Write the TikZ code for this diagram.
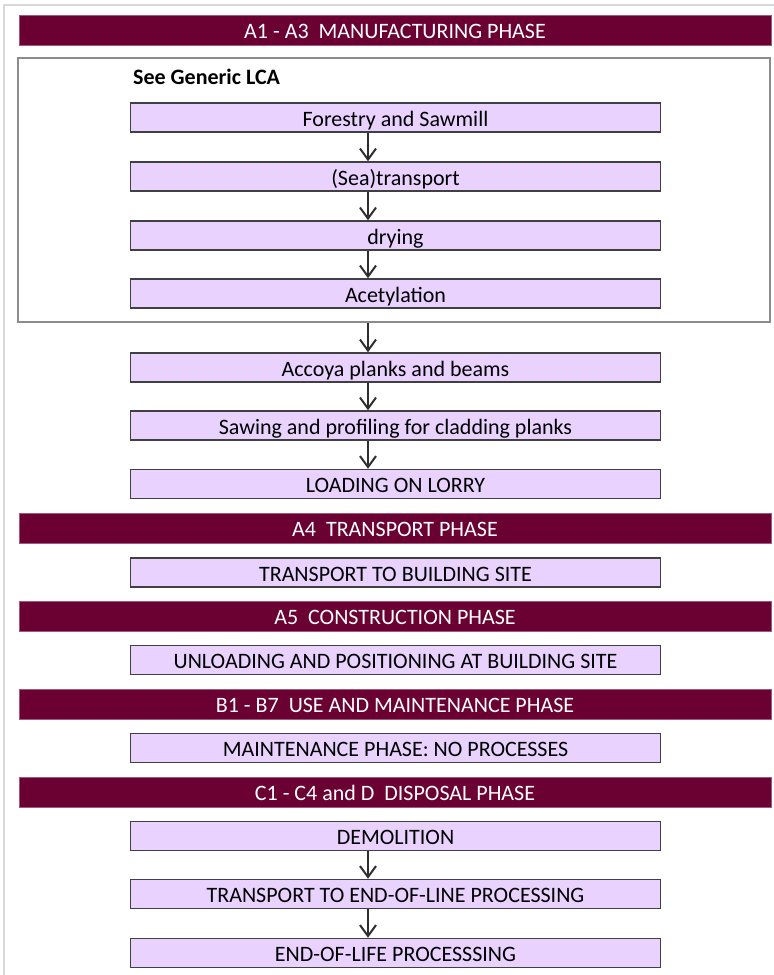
\documentclass[tikz,border=0pt]{standalone}
\usepackage{fontspec}
\setmainfont{Carlito}
\usetikzlibrary{arrows.meta}
\definecolor{maroon}{HTML}{6B0033}
\definecolor{lav}{HTML}{EAD2FF}
\definecolor{boxline}{HTML}{404040}
\definecolor{arrline}{HTML}{2E2E2E}
\definecolor{genline}{HTML}{8C8C8C}
\definecolor{outerline}{HTML}{D9D9D9}
\definecolor{hedge}{HTML}{9E5A7C}
\begin{document}
\begin{tikzpicture}[x=1pt,y=-1pt,
  font=\fontsize{22}{24}\selectfont,
  phase/.style={fill=maroon, draw=hedge, line width=0.6pt, text=white,
    minimum width=752pt, minimum height=30pt, inner sep=0pt,
    text height=17pt, text depth=0pt},
  proc/.style={fill=lav, draw=boxline, line width=1.5pt,
    minimum width=530pt, minimum height=29pt, inner sep=0pt,
    text height=17pt, text depth=0pt},
  genbox/.style={draw=genline, line width=2pt, minimum width=752pt,
    minimum height=264pt, inner sep=0pt},
  flow/.style={draw=arrline, line width=2pt,
    -{Straight Barb[length=11pt,width=16pt,line width=2pt]}}
]
\useasboundingbox[fill=white] (0,0) rectangle (774,975);
\draw[outerline, line width=2pt] (4,990) -- (4,5) -- (790,5);

% manufacturing
\node[phase] (h1) at (395,30) {A1 - A3~~MANUFACTURING PHASE};
\node[genbox] (gen) at (394,190) {};
\node[anchor=west, inner sep=0pt, text height=17pt, text depth=0pt,
  font=\fontsize{22}{24}\selectfont\bfseries] (see) at (133,76) {See Generic LCA};
\node[proc] (b1) at (395.5,117.5) {Forestry and Sawmill};
\node[proc] (b2) at (395.5,176.5) {(Sea)transport};
\node[proc] (b3) at (395.5,235.5) {drying};
\node[proc] (b4) at (395.5,293.5) {Acetylation};
\node[proc] (b5) at (395.5,367.5) {Accoya planks and beams};
\node[proc] (b6) at (395.5,425.5) {Sawing and profiling for cladding planks};
\node[proc] (b7) at (395.5,484) {LOADING ON LORRY};

% transport
\node[phase] (h2) at (395,528) {A4~~TRANSPORT PHASE};
\node[proc] (b8) at (395.5,572.5) {TRANSPORT TO BUILDING SITE};

% construction
\node[phase] (h3) at (395,616) {A5~~CONSTRUCTION PHASE};
\node[proc] (b9) at (395.5,660) {UNLOADING AND POSITIONING AT BUILDING SITE};

% use
\node[phase] (h4) at (395,704) {B1 - B7~~USE AND MAINTENANCE PHASE};
\node[proc] (b10) at (395.5,748) {MAINTENANCE PHASE: NO PROCESSES};

% disposal
\node[phase] (h5) at (395,792) {C1 - C4 and D~~DISPOSAL PHASE};
\node[proc] (b11) at (395.5,836) {DEMOLITION};
\node[proc] (b12) at (395.5,894) {TRANSPORT TO END-OF-LINE PROCESSING};
\node[proc] (b13) at (395.5,953) {END-OF-LIFE PROCESSSING};

% connectors
\draw[flow] ([xshift=-27.5pt]b1.south) -- ([xshift=-27.5pt]b2.north);
\draw[flow] ([xshift=-27.5pt]b2.south) -- ([xshift=-27.5pt]b3.north);
\draw[flow] ([xshift=-27.5pt]b3.south) -- ([xshift=-27.5pt]b4.north);
\draw[flow] ([xshift=-27.5pt]b5.north |- gen.south) -- ([xshift=-27.5pt]b5.north);
\draw[flow] ([xshift=-27.5pt]b5.south) -- ([xshift=-27.5pt]b6.north);
\draw[flow] ([xshift=-27.5pt]b6.south) -- ([xshift=-27.5pt]b7.north);
\draw[flow] ([xshift=-27.5pt]b11.south) -- ([xshift=-27.5pt]b12.north);
\draw[flow] ([xshift=-27.5pt]b12.south) -- ([xshift=-27.5pt]b13.north);
\end{tikzpicture}
\end{document}
